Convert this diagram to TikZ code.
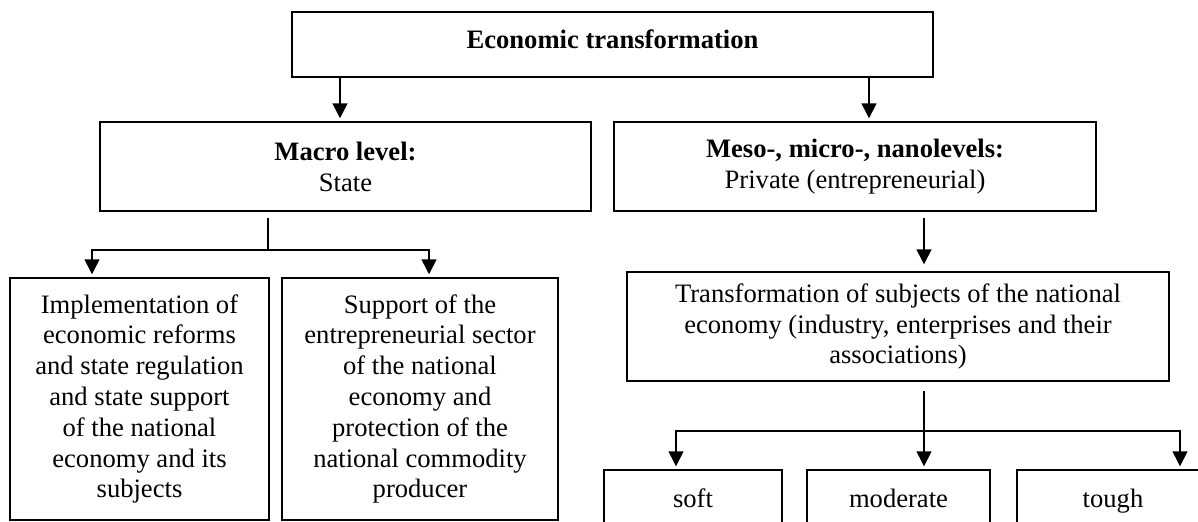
\documentclass[tikz,border=0pt]{standalone}
\usepackage{fontspec}
\setmainfont{Liberation Serif}
\usetikzlibrary{arrows.meta}
\begin{document}
\begin{tikzpicture}[x=0.5pt,y=-0.5pt,
  box/.style={draw, line width=0.75pt, inner sep=0pt, align=center, font=\fontsize{13.3}{15.4}\selectfont},
  smallbox/.style={box, minimum height=28pt, text height=9pt, text depth=0pt},
  link/.style={line width=0.8pt},
  arr/.style={line width=0.8pt, -{Triangle[width=7.5pt,length=7.5pt]}}]
\path[use as bounding box, clip] (0,0) rectangle (1198,521);
\node[box, minimum width=320.5pt, minimum height=32.5pt, text height=9pt, text depth=5.5pt] (top) at (612.5,44.5) {\textbf{Economic transformation}};
\node[box, minimum width=245.5pt, minimum height=44.5pt] (macro) at (345.5,166.5) {\textbf{Macro level:}\\State};
\node[box, minimum width=241pt, minimum height=44.5pt] (meso) at (855,166.5) {\textbf{Meso-, micro-, nanolevels:}\\Private (entrepreneurial)};
\node[box, minimum width=129.5pt, minimum height=121pt] (box1) at (139.5,399) {Implementation of\\economic reforms\\and state regulation\\and state support\\of the national\\economy and its\\subjects};
\node[box, minimum width=138pt, minimum height=121pt] (box2) at (420,399) {Support of the\\entrepreneurial sector\\of the national\\economy and\\protection of the\\national commodity\\producer};
\node[box, minimum width=271pt, minimum height=54.5pt] (trans) at (898,326.5) {Transformation of subjects of the national\\economy (industry, enterprises and their\\associations)};
\node[smallbox, minimum width=89pt] (soft) at (693,498) {soft};
\node[smallbox, minimum width=91.5pt] (moderate) at (898.5,498) {moderate};
\node[smallbox, minimum width=96pt] (tough) at (1113,498) {tough};
\coordinate (cA) at (340,0);
\coordinate (cB) at (869,0);
\coordinate (cC) at (268,0);
\coordinate (cD) at (92,0);
\coordinate (cE) at (429,0);
\coordinate (cF) at (924,0);
\coordinate (cG) at (676,0);
\coordinate (cH) at (1180,0);
\coordinate (jL) at (268,250);
\coordinate (jR) at (924,431);
\draw[arr, shorten >=1.5pt] (top.south -| cA) -- (macro.north -| cA);
\draw[arr, shorten >=1.5pt] (top.south -| cB) -- (meso.north -| cB);
\draw[link, shorten <=3pt] (macro.south -| cC) -- (jL);
\draw[arr, shorten >=1.5pt] (jL) -| (box1.north -| cD);
\draw[arr, shorten >=1.5pt] (jL) -| (box2.north -| cE);
\draw[arr, shorten <=3pt, shorten >=3.5pt] (meso.south -| cF) -- (trans.north -| cF);
\draw[link, shorten <=4.5pt] (trans.south -| cF) -- (jR);
\draw[arr, shorten >=1.5pt] (jR) -| (soft.north -| cG);
\draw[arr, shorten >=1.5pt] (jR) -- (moderate.north -| cF);
\draw[arr, shorten >=1.5pt] (jR) -| (tough.north -| cH);
\end{tikzpicture}
\end{document}
